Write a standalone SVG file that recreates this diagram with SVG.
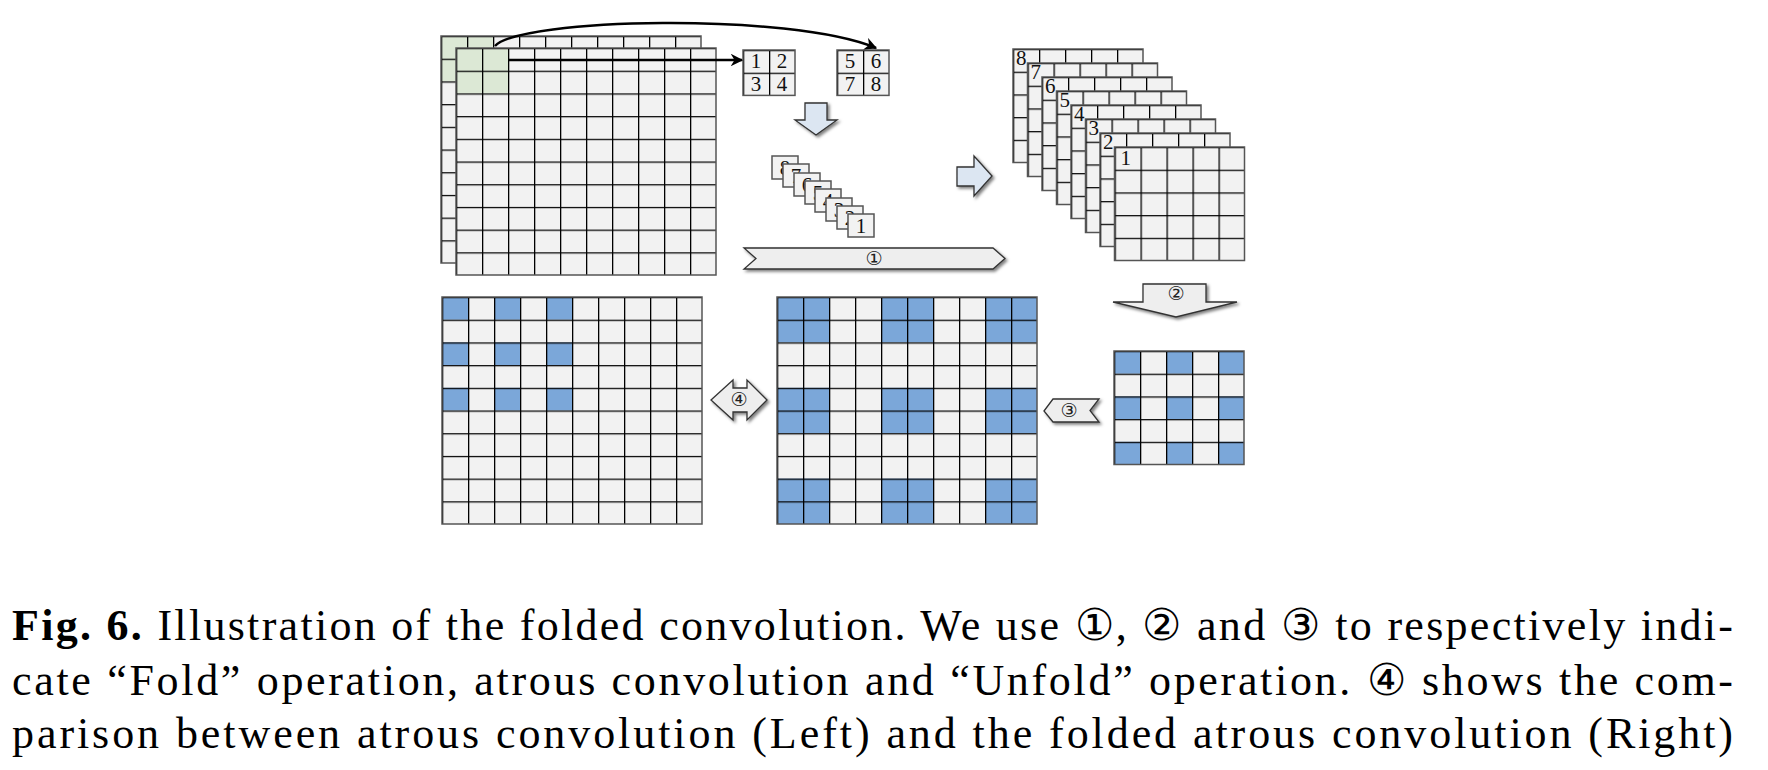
<svg xmlns="http://www.w3.org/2000/svg" width="1768" height="770" viewBox="0 0 1768 770">
<style>
.bg{fill:#f2f2f2}
.ln{fill:url(#cell)}
.bd{fill:none;stroke:#555;stroke-width:1.5}
.g{fill:#dce8d5}
.b{fill:#7ba7d9}
.t{font-family:"Liberation Serif","DejaVu Serif",serif;fill:#111}
.n{font-size:21px}
.blk{fill:#dce6f2;stroke:#333;stroke-width:1.3;filter:url(#sh)}
.gry{fill:#eeeeee;stroke:#333;stroke-width:1.3;filter:url(#sh)}
.c{font-family:"DejaVu Sans",sans-serif;font-size:19px;fill:#222}
.cap{font-family:"Liberation Serif","DejaVu Serif",serif;font-size:44px;fill:#000}
</style>
<defs>
<pattern id="cell" patternUnits="userSpaceOnUse" width="26" height="22.7">
<path d="M0,0H26M0,0V22.7" stroke="#000" stroke-width="2.6" fill="none"/>
</pattern>
<filter id="sh" x="-20%" y="-20%" width="150%" height="160%">
<feDropShadow dx="2" dy="2" stdDeviation="1.5" flood-color="#000" flood-opacity="0.5"/>
</filter>
<marker id="ah" viewBox="0 0 10 10" refX="9" refY="5" markerWidth="5" markerHeight="5" orient="auto">
<path d="M0,0L10,5L0,10L3,5z" fill="#000"/>
</marker>
<g id="g5"><rect class="bg" width="130" height="113.5"/><rect class="ln" width="130" height="113.5"/><rect class="bd" width="130" height="113.5"/></g>
</defs>

<g id="input">
<g transform="translate(441,36)"><rect class="bg" width="260" height="227"/><rect class="g" width="52" height="45.4"/><rect class="ln" width="260" height="227"/><rect class="bd" width="260" height="227"/></g>
<g transform="translate(456,48)"><rect class="bg" width="260" height="227"/><rect class="g" width="52" height="45.4"/><rect class="ln" width="260" height="227"/><rect class="bd" width="260" height="227"/></g>
</g>

<g id="patch1234" transform="translate(743,50)">
<rect class="bg" width="52" height="45.4"/><rect class="ln" width="52" height="45.4"/><rect class="bd" width="52" height="45.4"/>
<text class="t n" x="13" y="18" text-anchor="middle">1</text><text class="t n" x="39" y="18" text-anchor="middle">2</text>
<text class="t n" x="13" y="41" text-anchor="middle">3</text><text class="t n" x="39" y="41" text-anchor="middle">4</text>
</g>
<g id="patch5678" transform="translate(837,50)">
<rect class="bg" width="52" height="45.4"/><rect class="ln" width="52" height="45.4"/><rect class="bd" width="52" height="45.4"/>
<text class="t n" x="13" y="18" text-anchor="middle">5</text><text class="t n" x="39" y="18" text-anchor="middle">6</text>
<text class="t n" x="13" y="41" text-anchor="middle">7</text><text class="t n" x="39" y="41" text-anchor="middle">8</text>
</g>

<g id="cards">
<g transform="translate(772,156)"><rect class="bd" width="26" height="23" style="fill:#f2f2f2"/><text class="t n" x="13" y="19" text-anchor="middle">8</text></g>
<g transform="translate(783,164)"><rect class="bd" width="26" height="23" style="fill:#f2f2f2"/><text class="t n" x="13" y="19" text-anchor="middle">7</text></g>
<g transform="translate(794,173)"><rect class="bd" width="26" height="23" style="fill:#f2f2f2"/><text class="t n" x="13" y="19" text-anchor="middle">6</text></g>
<g transform="translate(805,181)"><rect class="bd" width="26" height="23" style="fill:#f2f2f2"/><text class="t n" x="13" y="19" text-anchor="middle">5</text></g>
<g transform="translate(815,189)"><rect class="bd" width="26" height="23" style="fill:#f2f2f2"/><text class="t n" x="13" y="19" text-anchor="middle">4</text></g>
<g transform="translate(826,198)"><rect class="bd" width="26" height="23" style="fill:#f2f2f2"/><text class="t n" x="13" y="19" text-anchor="middle">3</text></g>
<g transform="translate(837,206)"><rect class="bd" width="26" height="23" style="fill:#f2f2f2"/><text class="t n" x="13" y="19" text-anchor="middle">2</text></g>
<g transform="translate(848,214)"><rect class="bd" width="26" height="23" style="fill:#f2f2f2"/><text class="t n" x="13" y="19" text-anchor="middle">1</text></g>
</g>

<g id="stack">
<g transform="translate(1013,49)"><use href="#g5"/><text class="t n" x="3" y="16">8</text></g>
<g transform="translate(1027.5,63)"><use href="#g5"/><text class="t n" x="3" y="16">7</text></g>
<g transform="translate(1042,77)"><use href="#g5"/><text class="t n" x="3" y="16">6</text></g>
<g transform="translate(1056.5,91)"><use href="#g5"/><text class="t n" x="3" y="16">5</text></g>
<g transform="translate(1071,105)"><use href="#g5"/><text class="t n" x="3" y="16">4</text></g>
<g transform="translate(1085.5,119)"><use href="#g5"/><text class="t n" x="3" y="16">3</text></g>
<g transform="translate(1100,133)"><use href="#g5"/><text class="t n" x="3" y="16">2</text></g>
<g transform="translate(1114.5,147)"><use href="#g5"/><text class="t n" x="6" y="18">1</text></g>
</g>

<g id="atrous-left" transform="translate(442,297)">
<rect class="bg" width="260" height="227"/>
<rect class="b" x="0" y="0" width="26" height="22.7"/><rect class="b" x="52" y="0" width="26" height="22.7"/><rect class="b" x="104" y="0" width="26" height="22.7"/>
<rect class="b" x="0" y="45.4" width="26" height="22.7"/><rect class="b" x="52" y="45.4" width="26" height="22.7"/><rect class="b" x="104" y="45.4" width="26" height="22.7"/>
<rect class="b" x="0" y="90.8" width="26" height="22.7"/><rect class="b" x="52" y="90.8" width="26" height="22.7"/><rect class="b" x="104" y="90.8" width="26" height="22.7"/>
<rect class="ln" width="260" height="227"/><rect class="bd" width="260" height="227"/>
</g>

<g id="folded-result" transform="translate(777,297)">
<rect class="bg" width="260" height="227"/>
<rect class="b" x="0" y="0" width="52" height="45.4"/><rect class="b" x="104" y="0" width="52" height="45.4"/><rect class="b" x="208" y="0" width="52" height="45.4"/>
<rect class="b" x="0" y="90.8" width="52" height="45.4"/><rect class="b" x="104" y="90.8" width="52" height="45.4"/><rect class="b" x="208" y="90.8" width="52" height="45.4"/>
<rect class="b" x="0" y="181.6" width="52" height="45.4"/><rect class="b" x="104" y="181.6" width="52" height="45.4"/><rect class="b" x="208" y="181.6" width="52" height="45.4"/>
<rect class="ln" width="260" height="227"/><rect class="bd" width="260" height="227"/>
</g>

<g id="small-result" transform="translate(1114,351)">
<rect class="bg" width="130" height="113.5"/>
<rect class="b" x="0" y="0" width="26" height="22.7"/><rect class="b" x="52" y="0" width="26" height="22.7"/><rect class="b" x="104" y="0" width="26" height="22.7"/>
<rect class="b" x="0" y="45.4" width="26" height="22.7"/><rect class="b" x="52" y="45.4" width="26" height="22.7"/><rect class="b" x="104" y="45.4" width="26" height="22.7"/>
<rect class="b" x="0" y="90.8" width="26" height="22.7"/><rect class="b" x="52" y="90.8" width="26" height="22.7"/><rect class="b" x="104" y="90.8" width="26" height="22.7"/>
<rect class="ln" width="130" height="113.5"/><rect class="bd" width="130" height="113.5"/>
</g>

<g id="connectors">
<path d="M495,46 C520,18 790,12 876,48" fill="none" stroke="#000" stroke-width="2.5" marker-end="url(#ah)"/>
<path d="M508,60 H742" fill="none" stroke="#000" stroke-width="2.5" marker-end="url(#ah)"/>
<path class="blk" d="M805,103H827V120H837L816,135L795,120H805Z"/>
<path class="blk" d="M957,167H974V156L992,176L974,196V186H957Z"/>
<g><path class="gry" d="M744,248H993L1005,258.5L993,269H744L756,258.5Z"/><text class="c" x="874" y="265" text-anchor="middle">①</text></g>
<g><path class="gry" d="M1143,284H1206V302H1237L1176,317L1113,302H1143Z"/><text class="c" x="1176" y="300" text-anchor="middle">②</text></g>
<g><path class="gry" d="M1044,411L1053,399H1099L1090,410.5L1099,422H1053Z"/><text class="c" x="1069" y="417" text-anchor="middle">③</text></g>
<g><path class="gry" d="M711,400L733,380V388H747V380L767,400L747,420V412H733V420Z"/><text class="c" x="739" y="406" text-anchor="middle">④</text></g>
</g>

<g id="caption">
<text class="cap" x="12" y="640" textLength="1721" lengthAdjust="spacing"><tspan font-weight="bold">Fig. 6.</tspan> Illustration of the folded convolution. We use ①, ② and ③ to respectively indi-</text>
<text class="cap" x="12" y="695" textLength="1721" lengthAdjust="spacing">cate “Fold” operation, atrous convolution and “Unfold” operation. ④ shows the com-</text>
<text class="cap" x="12" y="748" textLength="1721" lengthAdjust="spacing">parison between atrous convolution (Left) and the folded atrous convolution (Right)</text>
</g>
</svg>
